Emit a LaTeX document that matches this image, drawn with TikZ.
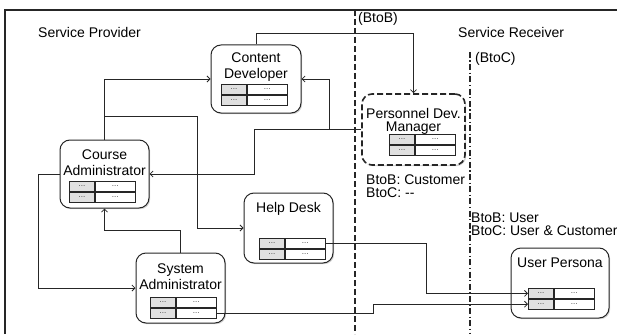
\documentclass[tikz,border=0pt]{standalone}
\usepackage{fontspec}
\setmainfont{Liberation Sans}
\usetikzlibrary{arrows.meta,shadows}

\tikzset{
  txt/.style={font=\fontsize{14}{16}\selectfont, inner sep=0pt, text=black},
  title/.style={txt, align=center},
  role/.style={draw=black!85, line width=1pt, rounded corners=10pt, fill=white,
    drop shadow={shadow xshift=1.2pt, shadow yshift=-1.2pt, opacity=0.35}},
  dashedrole/.style={role, line width=1.6pt, dash pattern=on 6pt off 3pt},
  lcell/.style={draw=black!85, line width=0.8pt, fill=black!12, minimum width=25pt,
    minimum height=10pt, inner sep=0pt, anchor=north west,
    font=\fontsize{8}{8}\selectfont, text=black!75},
  rcell/.style={lcell, fill=white, minimum width=40pt},
  conn/.style={draw=black!85, line width=0.9pt},
  arr/.style={conn, -{Straight Barb[length=3pt,width=6pt,line width=0.8pt]}},
  frame/.style={draw=black!85, line width=1.4pt},
  zone/.style={draw=black!85, line width=1.4pt},
}

% two-by-two attribute table whose top-left corner is (#2,#3)
\newcommand\celltab[3]{%
  \node[lcell] (#1a) at (#2,#3) {...};
  \node[rcell] (#1b) at (#1a.north east) {...};
  \node[lcell] (#1c) at (#1a.south west) {...};
  \node[rcell] (#1d) at (#1c.north east) {...};
}

\begin{document}
\begin{tikzpicture}[x=1pt, y=-1pt]
\useasboundingbox (0,0) rectangle (617,334);

% outer frame (top and left edges)
\draw[frame] (5,334) -- (5,10) -- (617,10);

% zone separators
\draw[zone, dash pattern=on 6pt off 3pt] (355,10) -- (355,334);
\draw[zone, dash pattern=on 6pt off 2.5pt on 1.2pt off 2.5pt] (470,52) -- (470,334);

% zone labels
\node[txt, anchor=west] (sp) at (38,32) {Service Provider};
\node[txt, anchor=west] (sr) at (458,32) {Service Receiver};
\node[txt, anchor=west] (btob) at (358,19) {(BtoB)};
\node[txt, anchor=west] (btoc) at (475,59) {(BtoC)};
\node[txt, anchor=west] (pdmlab) at (366,188) {\begin{tabular}{@{}l@{}}BtoB: Customer\\[-3pt]BtoC: {-}{-}\end{tabular}};
\node[txt, anchor=west] (uplab) at (471,226) {\begin{tabular}{@{}l@{}}BtoB: User\\[-3pt]BtoC: User \& Customer\end{tabular}};

% roles
\node[role, minimum width=90pt, minimum height=68pt] (cd) at (256,79) {};
\node[title] (cdt) at (256,67.5) {Content\\Developer};
\celltab{cdt}{221}{84}

\node[role, minimum width=89pt, minimum height=68pt] (ca) at (104.5,174) {};
\node[title] (cat) at (104.5,162.5) {Course\\Administrator};
\celltab{cat}{69}{181}

\node[role, minimum width=89pt, minimum height=70pt] (hd) at (288.5,228) {};
\node[title] (hdt) at (288.5,209) {Help Desk};
\celltab{hd}{259}{238}

\node[role, minimum width=89pt, minimum height=70pt] (sa) at (180.5,288) {};
\node[title] (sat) at (180.5,276.5) {System\\Administrator};
\celltab{sa}{150}{297}

\node[dashedrole, minimum width=103pt, minimum height=71pt] (pdm) at (413.5,129.5) {};
\node[title, font=\fontsize{14}{13}\selectfont] (pdmt) at (413.5,121.5) {Personnel Dev.\\Manager};
\celltab{pdmt}{389}{134}

\node[role, minimum width=98pt, minimum height=70pt] (up) at (560,283) {};
\node[title] (upt) at (560,263) {User Persona};
\celltab{up}{528}{288}

% connectors
\draw[arr] (ca.north) |- (cd.west);
\path (ca.north) ++(0,-23) coordinate (j1);
\draw[arr] (j1) -- ++(92.5,0) |- (hd.west);
\draw[arr] (ca.west) -- ++(-21,0) |- (sa.west);
\draw[arr] (sa.north) -- ++(0,-22) -| (ca.south);
\draw[arr] (cd.north) -- ++(0,-11) -| (pdm.north);
\draw[arr] (pdm.west) -- ++(-107,0) |- (ca.east);
\path (pdm.west) ++(-32,0) coordinate (j2);
\draw[arr] (j2) |- (cd.east);
\draw[arr] (hdb.east) -- ++(101,0) |- (upa.west);
\draw[arr] (sad.east) -- ++(157,0) |- (upc.west);
\end{tikzpicture}
\end{document}
